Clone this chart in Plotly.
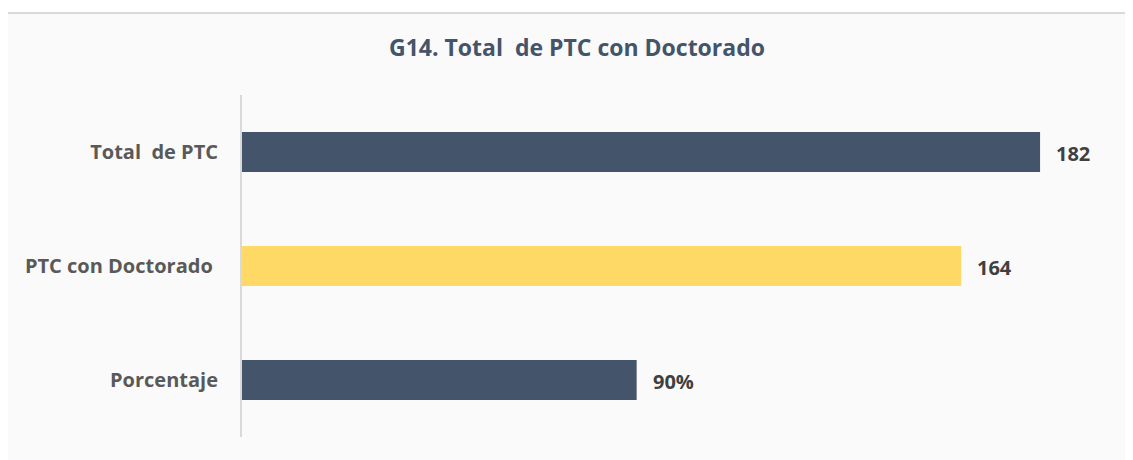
import plotly.graph_objects as go

categories = ["Total  de PTC", "PTC con Doctorado", "Porcentaje"]
tick_labels = ["Total  de PTC", "PTC con Doctorado\u00a0", "Porcentaje"]
values = [182, 164, 90]
value_labels = ["182", "164", "90%"]
bar_colors = ["#44546a", "#ffd966", "#44546a"]

OFF = 8  # browser default body margin
W, H = 1133 - OFF, 460 - OFF
L, R, T, B = 242 - OFF, 14, 95 - OFF, 23
pw, ph = W - L - R, H - T - B

fig = go.Figure()
fig.add_trace(go.Bar(
    x=values, y=categories, orientation="h",
    marker=dict(color=bar_colors, line=dict(width=0)),
    width=0.35, hoverinfo="skip",
))

for c, v, t in zip(categories, values, value_labels):
    fig.add_annotation(x=v, y=c, text=t, showarrow=False, xanchor="left",
                       xshift=14, yshift=-1,
                       font=dict(family="Open Sans", size=20, color="#404040", weight="bold"))

# chart border
fig.add_shape(type="rect", xref="paper", yref="paper",
              x0=(7 - OFF - L) / pw, x1=1.2, y0=-0.3, y1=1 + (T - (13 - OFF)) / ph,
              line=dict(color="#d9d9d9", width=2), fillcolor="#fafafa", layer="below")

fig.update_layout(
    width=W, height=H,
    margin=dict(l=L, r=R, t=T, b=B),
    paper_bgcolor="white", plot_bgcolor="rgba(0,0,0,0)",
    showlegend=False,
    title=dict(text="<b>G14. Total  de PTC con Doctorado</b>", x=(577 - OFF) / W, y=1 - (48 - OFF) / H,
               xanchor="center", yanchor="middle", xref="container", yref="container",
               font=dict(family="Open Sans", size=23, color="#44546a")),
    xaxis=dict(range=[0, 200], visible=False),
    yaxis=dict(autorange="reversed", showline=True, linecolor="#d9d9d9", linewidth=2,
               showgrid=False, ticks="", ticklabelstandoff=18,
               tickmode="array", tickvals=categories, ticktext=tick_labels,
               tickfont=dict(family="Open Sans", size=20, color="#595959", weight="bold")),
)

fig.write_html("out.html")
